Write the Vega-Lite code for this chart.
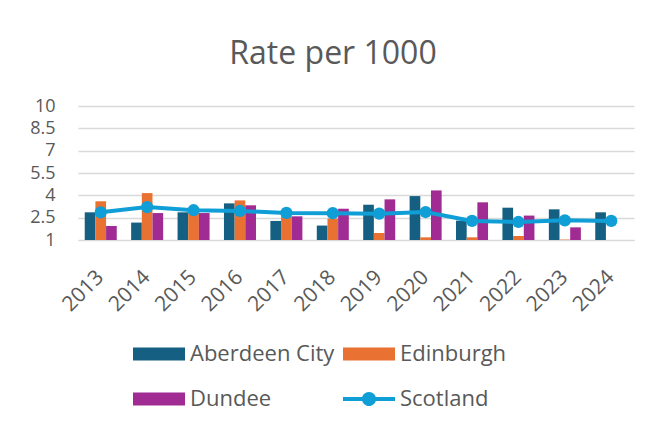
{
  "$schema": "https://vega.github.io/schema/vega-lite/v6.json",
  "width": 556,
  "height": 134,
  "autosize": "none",
  "padding": {"left": 78, "top": 106, "right": 24, "bottom": 186},
  "background": "white",
  "title": {"text": "Rate per 1000", "fontSize": 32, "font": "Open Sans", "fontWeight": "normal", "color": "#595959", "offset": 26, "dx": -23},
  "data": {"values": [
    {"year": "2013", "series": "Aberdeen City", "value": 2.86},
    {"year": "2014", "series": "Aberdeen City", "value": 2.17},
    {"year": "2015", "series": "Aberdeen City", "value": 2.86},
    {"year": "2016", "series": "Aberdeen City", "value": 3.46},
    {"year": "2017", "series": "Aberdeen City", "value": 2.28},
    {"year": "2018", "series": "Aberdeen City", "value": 1.97},
    {"year": "2019", "series": "Aberdeen City", "value": 3.37},
    {"year": "2020", "series": "Aberdeen City", "value": 3.95},
    {"year": "2021", "series": "Aberdeen City", "value": 2.3},
    {"year": "2022", "series": "Aberdeen City", "value": 3.17},
    {"year": "2023", "series": "Aberdeen City", "value": 3.06},
    {"year": "2024", "series": "Aberdeen City", "value": 2.86},
    {"year": "2013", "series": "Edinburgh", "value": 3.6},
    {"year": "2014", "series": "Edinburgh", "value": 4.15},
    {"year": "2015", "series": "Edinburgh", "value": 2.8},
    {"year": "2016", "series": "Edinburgh", "value": 3.66},
    {"year": "2017", "series": "Edinburgh", "value": 2.6},
    {"year": "2018", "series": "Edinburgh", "value": 2.45},
    {"year": "2019", "series": "Edinburgh", "value": 1.47},
    {"year": "2020", "series": "Edinburgh", "value": 1.18},
    {"year": "2021", "series": "Edinburgh", "value": 1.18},
    {"year": "2022", "series": "Edinburgh", "value": 1.27},
    {"year": "2023", "series": "Edinburgh", "value": 1.03},
    {"year": "2013", "series": "Dundee", "value": 1.94},
    {"year": "2014", "series": "Dundee", "value": 2.81},
    {"year": "2015", "series": "Dundee", "value": 2.81},
    {"year": "2016", "series": "Dundee", "value": 3.33},
    {"year": "2017", "series": "Dundee", "value": 2.59},
    {"year": "2018", "series": "Dundee", "value": 3.1},
    {"year": "2019", "series": "Dundee", "value": 3.73},
    {"year": "2020", "series": "Dundee", "value": 4.33},
    {"year": "2021", "series": "Dundee", "value": 3.53},
    {"year": "2022", "series": "Dundee", "value": 2.64},
    {"year": "2023", "series": "Dundee", "value": 1.85},
    {"year": "2013", "series": "Scotland", "value": 2.86},
    {"year": "2014", "series": "Scotland", "value": 3.21},
    {"year": "2015", "series": "Scotland", "value": 3.0},
    {"year": "2016", "series": "Scotland", "value": 2.95},
    {"year": "2017", "series": "Scotland", "value": 2.82},
    {"year": "2018", "series": "Scotland", "value": 2.8},
    {"year": "2019", "series": "Scotland", "value": 2.77},
    {"year": "2020", "series": "Scotland", "value": 2.88},
    {"year": "2021", "series": "Scotland", "value": 2.28},
    {"year": "2022", "series": "Scotland", "value": 2.21},
    {"year": "2023", "series": "Scotland", "value": 2.32},
    {"year": "2024", "series": "Scotland", "value": 2.28}
  ]},
  "encoding": {
    "x": {
      "field": "year", "type": "ordinal",
      "scale": {"paddingInner": 0.31, "paddingOuter": 0.145},
      "axis": {"title": null, "labelAngle": -45, "labelFontSize": 21, "labelFont": "Open Sans", "labelColor": "#595959", "labelPadding": 26, "labelOffset": -8, "ticks": false, "domain": true, "domainColor": "#D9D9D9", "grid": false}
    },
    "y": {"field": "value", "type": "quantitative", "scale": {"domain": [1, 10], "zero": false, "nice": false},
      "axis": {"title": null, "values": [1, 2.5, 4, 5.5, 7, 8.5, 10], "format": ".1~f", "labelOverlap": false, "labelFontSize": 18, "labelFont": "Open Sans", "labelColor": "#595959", "labelPadding": 23, "ticks": false, "domain": false, "gridColor": "#D9D9D9", "gridWidth": 1.3}},
    "color": {"field": "series", "type": "nominal", "sort": ["Aberdeen City", "Edinburgh", "Dundee", "Scotland"],
      "scale": {"domain": ["Aberdeen City", "Edinburgh", "Dundee", "Scotland"], "range": ["#156082", "#E97132", "#A02B93", "#0F9ED5"]},
      "legend": {
        "title": null, "orient": "none", "direction": "horizontal", "legendX": 55, "legendY": 222, "columns": 2, "columnPadding": 8, "rowPadding": 8,
        "values": ["Aberdeen City", "Edinburgh", "Dundee", "Scotland"],
        "labelFontSize": 22, "labelFont": "Open Sans", "labelColor": "#595959", "labelOffset": 5,
        "symbolSize": 2704,
        "encode": {"symbols": {"update": {
          "shape": {"signal": "datum.value === 'Scotland' ? 'M-1,-0.08H1V0.08H-1Z M-0.27,0A0.27,0.27 0 1,1 0.27,0A0.27,0.27 0 1,1 -0.27,0Z' : 'M-1,-0.25H1V0.25H-1Z'"},
          "fill": {"signal": "scale('color', datum.value)"},
          "stroke": {"value": "transparent"},
          "strokeWidth": {"value": 0},
          "opacity": {"value": 1},
          "fillOpacity": {"value": 1}
        }}}
      }}
  },
  "layer": [
    {
      "transform": [{"filter": "datum.series !== 'Scotland'"}],
      "mark": {"type": "bar"},
      "encoding": {
        "xOffset": {"field": "series", "type": "nominal", "scale": {"domain": ["Aberdeen City", "Edinburgh", "Dundee"], "paddingInner": 0, "paddingOuter": 0}},
        "y2": {"datum": 1}
      }
    },
    {
      "transform": [{"filter": "datum.series === 'Scotland'"}],
      "mark": {"type": "line", "strokeWidth": 4, "point": {"filled": true, "size": 150}},
      "encoding": {}
    }
  ],
  "config": {"view": {"stroke": null}}
}
